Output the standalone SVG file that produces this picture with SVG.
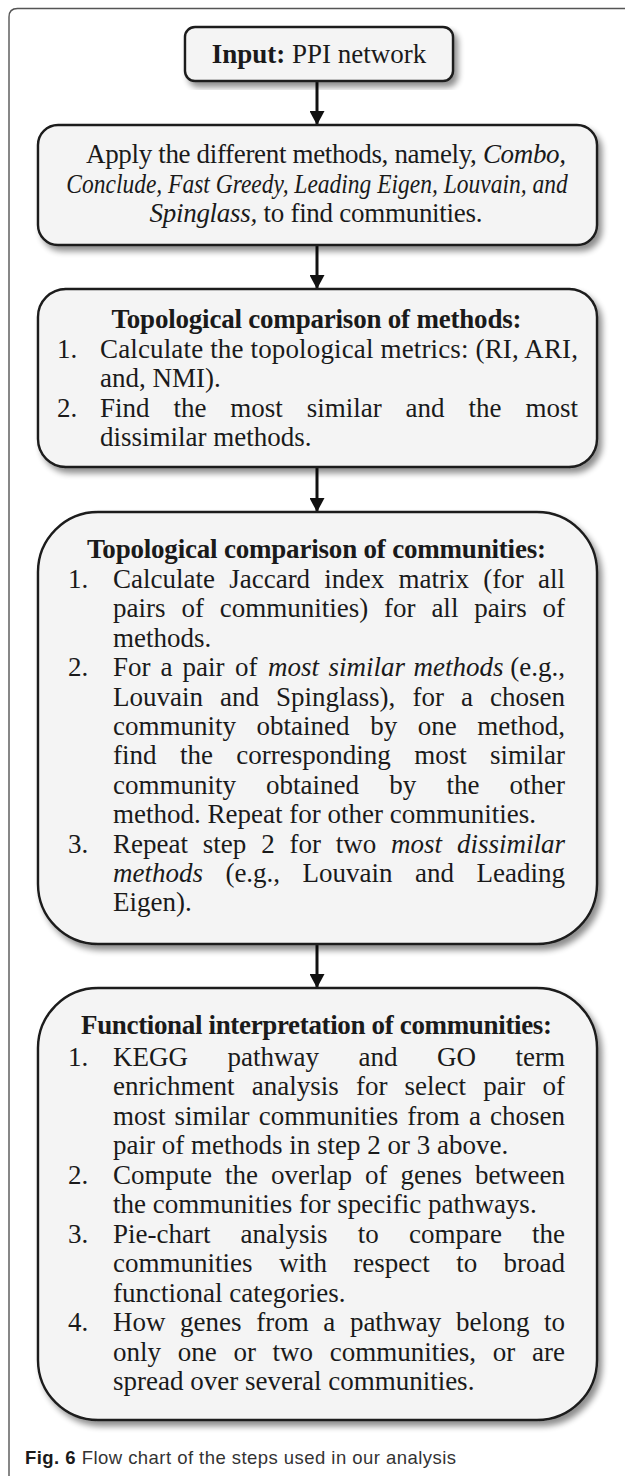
<svg xmlns="http://www.w3.org/2000/svg" width="625" height="1476" viewBox="0 0 625 1476">
<style>
.bx{fill:#f4f4f4;stroke:#1a1a1a;stroke-width:2.4}
.t{font-family:"Liberation Serif","Times New Roman",serif;font-size:27px;fill:#1a1a1a}
.b{font-weight:bold}
.i{font-style:italic}
.c{text-anchor:middle}
.e{text-anchor:end}
.cap{font-family:"Liberation Sans",Arial,sans-serif;font-size:18.5px;fill:#333}
.ln{stroke:#111;stroke-width:3;fill:none}
</style>
<defs>
<filter id="sh" x="-10%" y="-10%" width="125%" height="125%">
<feGaussianBlur in="SourceAlpha" stdDeviation="3"/>
<feOffset dx="4" dy="5"/>
<feComponentTransfer><feFuncA type="linear" slope="0.45"/></feComponentTransfer>
<feMerge><feMergeNode/><feMergeNode in="SourceGraphic"/></feMerge>
</filter>
<marker id="ah" viewBox="0 0 14 15" refX="14" refY="7.5" markerWidth="14" markerHeight="15" orient="auto" markerUnits="userSpaceOnUse">
<path d="M0,0 L14,7.5 L0,15 z" fill="#111"/>
</marker>
</defs>
<path d="M9,1476 L9,17 Q9,8.5 17.5,8.5 L625,8.5" fill="none" stroke="#555" stroke-width="1.4"/>

<g id="connectors">
<line class="ln" x1="317" y1="81" x2="317" y2="125" marker-end="url(#ah)"/>
<line class="ln" x1="317" y1="245" x2="317" y2="289" marker-end="url(#ah)"/>
<line class="ln" x1="317" y1="467" x2="317" y2="512" marker-end="url(#ah)"/>
<line class="ln" x1="317" y1="944" x2="317" y2="988" marker-end="url(#ah)"/>
</g>

<g id="input">
<rect class="bx" x="185" y="27" width="268" height="54" rx="10" filter="url(#sh)"/>
<text class="t c" x="319" y="63"><tspan class="b">Input:</tspan> PPI network</text>
</g>

<g id="apply">
<rect class="bx" x="38" y="125" width="559" height="120" rx="20" filter="url(#sh)"/>
<text class="t c" x="326" y="163" textLength="480" lengthAdjust="spacing">Apply the different methods, namely, <tspan class="i">Combo,</tspan></text>
<g transform="translate(317,193) scale(0.87,1)">
<text class="t c i" x="0" y="0" font-size="26">Conclude, Fast Greedy, Leading Eigen, Louvain, and</text>
</g>
<text class="t c" x="316" y="222" textLength="333" lengthAdjust="spacing"><tspan class="i">Spinglass,</tspan> to find communities.</text>
</g>

<g id="methods">
<rect class="bx" x="38" y="289" width="559" height="178" rx="28" filter="url(#sh)"/>
<text class="t b c" x="316.5" y="328" textLength="410" lengthAdjust="spacing">Topological comparison of methods:</text>
<text class="t" x="57" y="357.5">1.</text>
<text class="t" x="100" y="357.5" textLength="478" lengthAdjust="spacing">Calculate the topological metrics: (RI, ARI,</text>
<text class="t" x="100" y="387">and, NMI).</text>
<text class="t" y="416.5"><tspan x="57">2.</tspan><tspan x="100">Find</tspan><tspan x="173.4">the</tspan><tspan x="230.3">most</tspan><tspan x="306.7">similar</tspan><tspan x="405.6">and</tspan><tspan x="468.5">the</tspan></text>
<text class="t e" x="578" y="416.5">most</text>
<text class="t" x="100" y="446">dissimilar methods.</text>
</g>

<g id="communities">
<rect class="bx" x="38" y="512" width="559" height="432" rx="60" filter="url(#sh)"/>
<text class="t b c" x="316.5" y="558" textLength="459" lengthAdjust="spacing">Topological comparison of communities:</text>
<text class="t" y="588"><tspan x="68">1.</tspan><tspan x="113">Calculate</tspan><tspan x="229.2">Jaccard</tspan><tspan x="324.3">index</tspan><tspan x="398.5">matrix</tspan><tspan x="483.2">(for</tspan></text>
<text class="t e" x="565" y="588">all</text>
<text class="t" y="617.4"><tspan x="113">pairs</tspan><tspan x="181.4">of</tspan><tspan x="219.7">communities)</tspan><tspan x="384">for</tspan><tspan x="431.4">all</tspan><tspan x="474.3">pairs</tspan></text>
<text class="t e" x="565" y="617.4">of</text>
<text class="t" x="113" y="646.8">methods.</text>
<text class="t" y="676.2"><tspan x="68">2.</tspan><tspan x="113">For</tspan><tspan x="160.5">a</tspan><tspan x="182.5">pair</tspan><tspan x="235">of</tspan><tspan x="268" class="i">most</tspan><tspan x="328.5" class="i">similar</tspan><tspan x="413.5" class="i">methods</tspan></text>
<text class="t e" x="565" y="676.2">(e.g.,</text>
<text class="t" y="705.6"><tspan x="113">Louvain</tspan><tspan x="220.1">and</tspan><tspan x="276.1">Spinglass),</tspan><tspan x="412.5">for</tspan><tspan x="461">a</tspan></text>
<text class="t e" x="565" y="705.6">chosen</text>
<text class="t" y="735"><tspan x="113">community</tspan><tspan x="256.6">obtained</tspan><tspan x="370.2">by</tspan><tspan x="417.8">one</tspan></text>
<text class="t e" x="565" y="735">method,</text>
<text class="t" y="764.4"><tspan x="113">find</tspan><tspan x="179.9">the</tspan><tspan x="236.3">corresponding</tspan><tspan x="414.2">most</tspan></text>
<text class="t e" x="565" y="764.4">similar</text>
<text class="t" y="793.8"><tspan x="113">community</tspan><tspan x="266.1">obtained</tspan><tspan x="389.3">by</tspan><tspan x="446.4">the</tspan></text>
<text class="t e" x="565" y="793.8">other</text>
<text class="t" x="113" y="823.2">method. Repeat for other communities.</text>
<text class="t" y="852.6"><tspan x="68">3.</tspan><tspan x="113">Repeat</tspan><tspan x="202.8">step</tspan><tspan x="261.2">2</tspan><tspan x="289.5">for</tspan><tspan x="335.8">two</tspan><tspan x="391.1" class="i">most</tspan></text>
<text class="t e i" x="565" y="852.6">dissimilar</text>
<text class="t" y="882"><tspan x="113" class="i">methods</tspan><tspan x="225.4">(e.g.,</tspan><tspan x="302.6">Louvain</tspan><tspan x="415">and</tspan></text>
<text class="t e" x="565" y="882">Leading</text>
<text class="t" x="113" y="911.4">Eigen).</text>
</g>

<g id="functional">
<rect class="bx" x="38" y="988" width="559" height="432" rx="60" filter="url(#sh)"/>
<text class="t b c" x="316.5" y="1034" textLength="471" lengthAdjust="spacing">Functional interpretation of communities:</text>
<text class="t" y="1066"><tspan x="68">1.</tspan><tspan x="113">KEGG</tspan><tspan x="227.5">pathway</tspan><tspan x="358.5">and</tspan><tspan x="437">GO</tspan></text>
<text class="t e" x="565" y="1066">term</text>
<text class="t" y="1095.4"><tspan x="113">enrichment</tspan><tspan x="251.7">analysis</tspan><tspan x="355.9">for</tspan><tspan x="404.6">select</tspan><tspan x="483.3">pair</tspan></text>
<text class="t e" x="565" y="1095.4">of</text>
<text class="t" y="1124.9"><tspan x="113">most</tspan><tspan x="174.6">similar</tspan><tspan x="258.7">communities</tspan><tspan x="407.3">from</tspan><tspan x="468.9">a</tspan></text>
<text class="t e" x="565" y="1124.9">chosen</text>
<text class="t" x="113" y="1154.3">pair of methods in step 2 or 3 above.</text>
<text class="t" y="1183.8"><tspan x="68">2.</tspan><tspan x="113">Compute</tspan><tspan x="225">the</tspan><tspan x="271">overlap</tspan><tspan x="365">of</tspan><tspan x="400.5">genes</tspan></text>
<text class="t e" x="565" y="1183.8">between</text>
<text class="t" x="113" y="1213.2">the communities for specific pathways.</text>
<text class="t" y="1242.7"><tspan x="68">3.</tspan><tspan x="113">Pie-chart</tspan><tspan x="240.6">analysis</tspan><tspan x="357.8">to</tspan><tspan x="409">compare</tspan></text>
<text class="t e" x="565" y="1242.7">the</text>
<text class="t" y="1272.1"><tspan x="113">communities</tspan><tspan x="278.9">with</tspan><tspan x="353.3">respect</tspan><tspan x="456.2">to</tspan></text>
<text class="t e" x="565" y="1272.1">broad</text>
<text class="t" x="113" y="1301.6">functional categories.</text>
<text class="t" y="1331"><tspan x="68">4.</tspan><tspan x="113">How</tspan><tspan x="180.1">genes</tspan><tspan x="256.2">from</tspan><tspan x="323.3">a</tspan><tspan x="349.9">pathway</tspan><tspan x="456">belong</tspan></text>
<text class="t e" x="565" y="1331">to</text>
<text class="t" y="1360.5"><tspan x="113">only</tspan><tspan x="177.7">one</tspan><tspan x="233.4">or</tspan><tspan x="272.6">two</tspan><tspan x="329.8">communities,</tspan><tspan x="492.8">or</tspan></text>
<text class="t e" x="565" y="1360.5">are</text>
<text class="t" x="113" y="1390">spread over several communities.</text>
</g>

<text class="cap" x="25" y="1464" textLength="431" lengthAdjust="spacing"><tspan font-weight="bold" fill="#1a1a1a">Fig. 6</tspan> Flow chart of the steps used in our analysis</text>
</svg>
